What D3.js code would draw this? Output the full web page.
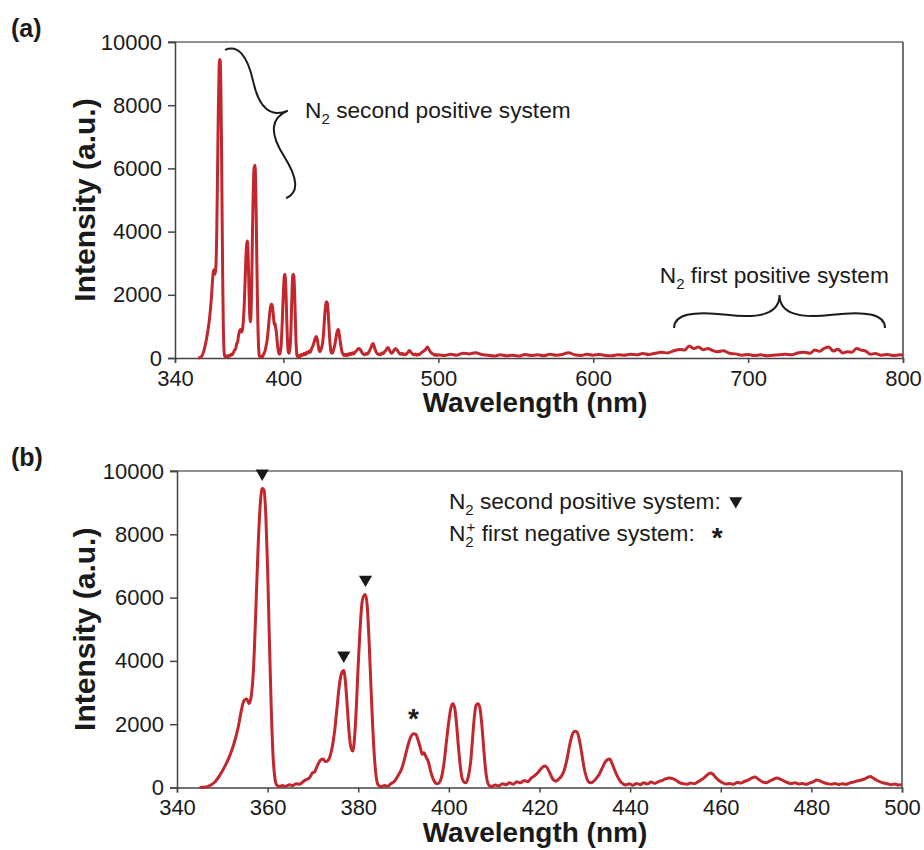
<!DOCTYPE html>
<html>
<head>
<meta charset="utf-8">
<script src="https://cdn.jsdelivr.net/npm/d3@7"></script>
<style>
body { margin: 0; background: #fff; }
svg text { font-family: "Liberation Sans", Arial, Helvetica, sans-serif; fill: #1a1a1a; }
</style>
</head>
<body>
<div id="chart"></div>
<script>
// emission spectrum, 345-500 nm (the part zoomed in panel b)
var wlDetail = [345.0,346.5,347.5,348.5,349.5,350.5,351.5,352.5,353.5,354.3,354.8,355.4,355.9,356.4,356.9,357.4,357.9,358.4,358.8,359.2,359.6,360.0,360.4,360.8,361.2,361.6,362.0,362.6,363.2,364.0,364.8,365.5,366.3,367.0,367.8,368.5,369.2,369.8,370.4,371.0,371.6,372.2,372.8,373.3,373.8,374.3,374.8,375.3,375.8,376.3,376.8,377.2,377.6,378.0,378.4,378.8,379.2,379.6,380.0,380.4,380.8,381.2,381.6,382.0,382.4,382.8,383.2,383.6,384.0,384.4,385.0,385.8,386.5,387.2,388.0,388.8,389.6,390.3,391.0,391.6,392.2,392.7,393.2,393.7,394.1,394.5,395.0,395.5,396.0,396.5,397.0,397.5,398.0,398.5,399.0,399.5,400.0,400.5,400.9,401.3,401.7,402.1,402.5,402.9,403.3,403.8,404.3,404.8,405.2,405.6,406.0,406.4,406.8,407.2,407.6,408.0,408.4,408.9,409.5,410.2,411.0,411.8,412.6,413.4,414.2,415.0,415.8,416.6,417.4,418.2,419.0,419.8,420.5,421.2,421.8,422.4,423.0,423.6,424.2,424.8,425.4,426.0,426.6,427.2,427.8,428.3,428.8,429.3,429.8,430.3,430.8,431.4,432.0,432.6,433.2,433.8,434.4,435.0,435.5,436.0,436.6,437.2,437.8,438.4,439.0,439.8,440.6,441.4,442.2,443.0,443.8,444.6,445.4,446.2,447.0,447.8,448.6,449.4,450.2,451.0,451.8,452.6,453.4,454.2,455.0,455.8,456.5,457.2,457.8,458.4,459.0,459.6,460.4,461.2,462.0,462.8,463.6,464.4,465.2,466.0,466.8,467.6,468.4,469.2,470.0,470.8,471.6,472.4,473.2,474.0,474.8,475.6,476.4,477.2,478.0,478.8,479.6,480.4,481.2,482.0,482.8,483.6,484.4,485.2,486.0,486.8,487.6,488.4,489.2,490.0,490.8,491.6,492.4,493.0,493.6,494.4,495.2,496.0,496.8,497.6,498.4,499.2,500.0];
var intDetail = [0,20,80,200,400,650,950,1350,1900,2500,2750,2800,2650,2900,3800,5600,7600,9000,9450,9400,8600,6900,4600,2500,1000,300,80,30,60,40,90,60,120,100,180,250,300,450,500,700,850,900,820,850,1000,1300,1800,2500,3200,3600,3700,3300,2500,1700,1250,1150,1600,2600,3900,5000,5800,6050,6100,5700,4600,3200,1900,900,300,80,30,60,40,120,200,380,600,950,1350,1600,1700,1680,1500,1250,1050,1100,950,800,500,280,150,120,180,400,850,1500,2100,2550,2650,2500,2000,1300,700,300,180,150,350,800,1500,2200,2600,2650,2550,2100,1400,700,250,60,30,80,50,120,90,150,100,180,150,220,180,300,380,500,620,680,600,420,250,200,260,350,520,850,1300,1650,1780,1750,1500,1100,650,350,180,150,200,300,420,600,780,880,900,760,550,350,200,120,80,120,70,130,90,150,110,170,130,180,220,270,300,280,220,150,120,100,140,120,180,250,330,420,460,400,300,220,150,110,130,100,160,140,190,230,300,330,250,180,150,200,260,300,260,200,150,120,150,110,130,100,140,180,240,200,150,120,100,130,90,120,100,140,170,200,230,260,320,350,300,230,180,140,120,90,110,80,100];

// rest of the spectrum, 500-800 nm (panel a only)
var wlTail = [504,508,512,516,520,524,528,532,536,540,544,548,552,556,560,564,568,572,576,580,584,588,592,596,600,604,608,612,616,620,624,628,632,636,640,644,648,652,656,659,662,665,668,671,674,677,680,684,688,692,696,700,704,708,712,716,720,724,728,732,736,740,743,746,749,752,755,758,761,764,767,770,773,776,779,782,786,790,794,798,800];
var intTail = [80,120,90,150,130,170,110,90,60,100,70,90,60,110,80,100,70,120,90,110,170,100,80,120,90,110,80,70,100,90,120,100,140,110,150,180,160,230,270,250,380,300,350,260,300,240,200,230,150,130,90,110,80,100,70,90,100,120,100,160,180,150,250,210,300,350,220,280,160,200,180,300,250,220,120,140,90,110,80,100,90];

var yTicks = [0, 2000, 4000, 6000, 8000, 10000];
var xTicksA = [340, 400, 500, 600, 700, 800];
var xTicksB = [340, 360, 380, 400, 420, 440, 460, 480, 500];
var xStartA = 330; // panel a's axis origin sits left of its "340" label

// marked bands in panel b
var spsPeakWl = [358.8, 376.8, 381.6];   // N2 second positive (▼)
var spsPeakInt = [9450, 3700, 6100];
var fnsPeakWl = [392.2];                 // N2+ first negative (*)
var fnsPeakInt = [1700];

var red = '#c1272d';
var ink = '#1a1a1a';
var noteSize = '22.7px';

var spectrum = d3.zip(wlDetail.concat(wlTail), intDetail.concat(intTail));
var spectrumB = d3.zip(wlDetail, intDetail);

var svg = d3.select('#chart').append('svg')
	.attr('width', 924)
	.attr('height', 850);

// classic curly brace between two points, bulging to the left of p1->p2
function bracePath(x1, y1, x2, y2, w, q) {
	var dx = x1 - x2, dy = y1 - y2;
	var len = Math.sqrt(dx * dx + dy * dy);
	dx = dx / len; dy = dy / len;
	var qx1 = x1 + q * w * dy, qy1 = y1 - q * w * dx;
	var qx2 = (x1 - 0.25 * len * dx) + (1 - q) * w * dy;
	var qy2 = (y1 - 0.25 * len * dy) - (1 - q) * w * dx;
	var tx = (x1 - 0.5 * len * dx) + w * dy;
	var ty = (y1 - 0.5 * len * dy) - w * dx;
	var qx3 = x2 + q * w * dy, qy3 = y2 - q * w * dx;
	var qx4 = (x1 - 0.75 * len * dx) + (1 - q) * w * dy;
	var qy4 = (y1 - 0.75 * len * dy) - (1 - q) * w * dx;
	return 'M ' + x1 + ' ' + y1 + ' Q ' + qx1 + ' ' + qy1 + ' ' + qx2 + ' ' + qy2 + ' T ' + tx + ' ' + ty +
		' M ' + x2 + ' ' + y2 + ' Q ' + qx3 + ' ' + qy3 + ' ' + qx4 + ' ' + qy4 + ' T ' + tx + ' ' + ty;
}

// "N2 ..." / "N2+ ..." label with sub/superscripts
function nLabel(x, y, rest, plus) {
	var t = svg.append('text').attr('x', x).attr('y', y).style('font-size', noteSize);
	t.append('tspan').text('N');
	t.append('tspan').attr('dy', 6).style('font-size', '15px').text('2');
	if (plus) {
		t.append('tspan').attr('dx', -7).attr('dy', -15).style('font-size', '15px').text('+');
		t.append('tspan').attr('dy', 9).text(rest);
	} else {
		t.append('tspan').attr('dy', -6).text(rest);
	}
	return t;
}

function drawPanel(x, y, data, ticks, tickVals, letter) {
	var g = svg.append('g');

	// frame: top and right edges
	g.append('line')
		.attr('x1', x.range()[0] - 7).attr('x2', x.range()[1])
		.attr('y1', y(10000)).attr('y2', y(10000))
		.attr('stroke', '#6b6b6b').attr('stroke-width', 1.5);
	g.append('line')
		.attr('x1', x.range()[1]).attr('x2', x.range()[1])
		.attr('y1', y(0)).attr('y2', y(10000))
		.attr('stroke', '#444').attr('stroke-width', 1.5);

	var xAxis = g.append('g')
		.attr('transform', 'translate(0,' + y(0) + ')')
		.call(d3.axisBottom(x).tickValues(tickVals).tickFormat(function(d, i) { return ticks[i]; })
			.tickSize(5).tickPadding(7));
	var yAxis = g.append('g')
		.attr('transform', 'translate(' + x.range()[0] + ',0)')
		.call(d3.axisLeft(y).tickValues(yTicks).tickFormat(d3.format('d')).tickSize(7).tickPadding(6));

	[xAxis, yAxis].forEach(function(a) {
		a.selectAll('path, line').attr('stroke', '#444').attr('stroke-width', 1.5);
		a.selectAll('text').style('font-size', '22px').attr('fill', ink)
			.style('font-family', '"Liberation Sans", Arial, sans-serif');
	});

	var line = d3.line()
		.x(function(d) { return x(d[0]); })
		.y(function(d) { return y(d[1]); })
		.curve(d3.curveMonotoneX);

	g.append('path')
		.datum(data)
		.attr('d', line)
		.attr('fill', 'none')
		.attr('stroke', red)
		.attr('stroke-width', 3)
		.attr('stroke-linejoin', 'round');

	// axis titles
	g.append('text')
		.attr('x', 535).attr('y', y(0) + 54)
		.attr('text-anchor', 'middle')
		.style('font-size', '28px').style('font-weight', 'bold')
		.text('Wavelength (nm)');
	g.append('text')
		.attr('transform', 'translate(95,' + (y(0) + y(10000)) / 2 + ') rotate(-90)')
		.attr('text-anchor', 'middle')
		.style('font-size', '30px').style('font-weight', 'bold')
		.text('Intensity (a.u.)');

	g.append('text')
		.attr('x', 11).attr('y', y(10000) - 5)
		.style('font-size', '25px').style('font-weight', 'bold')
		.text(letter);
}

// PANEL A - full range
var xA = d3.scaleLinear().domain([xStartA, 800]).range([175, 903]);
var yA = d3.scaleLinear().domain([0, 10000]).range([358, 42]);
drawPanel(xA, yA, spectrum, xTicksA, [xStartA, 400, 500, 600, 700, 800], '(a)');

svg.append('path')
	.attr('d', bracePath(xA(401.7), yA(5060), xA(362.3), yA(9750), 35, 0.6))
	.attr('fill', 'none').attr('stroke', ink).attr('stroke-width', 2);
nLabel(xA(414), yA(7595), ' second positive system', false);

svg.append('path')
	.attr('d', bracePath(xA(788.4), yA(950), xA(652.2), yA(950), 33, 0.6))
	.attr('fill', 'none').attr('stroke', ink).attr('stroke-width', 2);
nLabel(xA(643), yA(2373), ' first positive system', false);

// PANEL B - zoom on 340-500 nm
var xB = d3.scaleLinear().domain([340, 500]).range([177, 902]);
var yB = d3.scaleLinear().domain([0, 10000]).range([787.5, 471]);
drawPanel(xB, yB, spectrumB, xTicksB, xTicksB, '(b)');

var tri = d3.symbol().type(d3.symbolTriangle).size(75);

svg.selectAll('.sps')
	.data(d3.zip(spsPeakWl, spsPeakInt))
	.join('path')
	.attr('class', 'sps')
	.attr('d', tri)
	.attr('transform', function(d) { return 'translate(' + xB(d[0]) + ',' + (yB(d[1]) - 15) + ') rotate(180)'; })
	.attr('fill', ink);

svg.selectAll('.fns')
	.data(d3.zip(fnsPeakWl, fnsPeakInt))
	.join('text')
	.attr('class', 'fns')
	.attr('x', function(d) { return xB(d[0]); })
	.attr('y', function(d) { return yB(d[1]) - 6; })
	.attr('text-anchor', 'middle')
	.style('font-size', '28px').style('font-weight', 'bold')
	.text('*');

// legend
var l1 = nLabel(xB(400), yB(8800), ' second positive system:', false);
var l1w = l1.node().getComputedTextLength();
svg.append('path')
	.attr('d', tri)
	.attr('transform', 'translate(' + (xB(400) + l1w + 15) + ',' + (yB(8800) - 8) + ') rotate(180)')
	.attr('fill', ink);

var l2 = nLabel(xB(400), yB(7790), ' first negative system:', true);
var l2w = l2.node().getComputedTextLength();
svg.append('text')
	.attr('x', xB(400) + l2w + 10)
	.attr('y', yB(7790) + 6)
	.style('font-size', '28px').style('font-weight', 'bold')
	.text('*');
</script>
</body>
</html>
